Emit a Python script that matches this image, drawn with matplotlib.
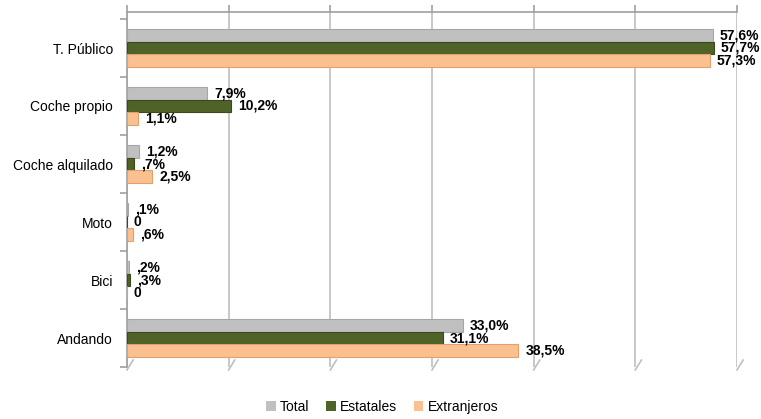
import matplotlib
matplotlib.use("Agg")
import matplotlib.pyplot as plt
import numpy as np
from matplotlib.patches import Patch

categories = ["T. Público", "Coche propio", "Coche alquilado", "Moto", "Bici", "Andando"]
series_names = ["Total", "Estatales", "Extranjeros"]
total = [57.6, 7.9, 1.2, 0.1, 0.2, 33.0]
estatales = [57.7, 10.2, 0.7, 0.0, 0.3, 31.1]
extranjeros = [57.3, 1.1, 2.5, 0.6, 0.0, 38.5]
total_labels = ["57,6%", "7,9%", "1,2%", ",1%", ",2%", "33,0%"]
estatales_labels = ["57,7%", "10,2%", ",7%", "0", ",3%", "31,1%"]
extranjeros_labels = ["57,3%", "1,1%", "2,5%", ",6%", "0", "38,5%"]
colors = ["#c0c0c0", "#4f6228", "#fac090"]
edge_colors = ["#a6a6a6", "#3b4a1e", "#e0a070"]

plt.rcParams['font.family'] = ['Liberation Sans', 'DejaVu Sans']

fig = plt.figure(figsize=(7.61, 4.19), dpi=100)
ax = fig.add_axes([127/761, 1-367/419, 610/761, 355/419])

y = np.arange(len(categories))
h = 0.224
all_vals = [total, estatales, extranjeros]
all_labels = [total_labels, estatales_labels, extranjeros_labels]
offsets = [-h, 0, h]
for vals, labs, off, c, ec, name in zip(all_vals, all_labels, offsets, colors, edge_colors, series_names):
    ax.barh(y + off, vals, height=h, color=c, edgecolor=ec, linewidth=0.8, label=name, zorder=3)
    for yi, v, lab in zip(y + off, vals, labs):
        ax.annotate(lab, (v, yi), xytext=(5, 0), textcoords="offset points",
                    va="center", ha="left", fontsize=10, fontweight="bold",
                    color="black", zorder=5)

n = len(categories)
ax.set_xlim(0, 60)
ax.set_ylim(n - 0.5, -0.5 - 7/58)
ax.set_xticks(np.arange(0, 61, 10))
ax.xaxis.set_ticks_position("top")
ax.tick_params(axis="x", length=5, color="#a0a0a0", width=1.2, labeltop=False, labelbottom=False)
ax.grid(axis="x", color="#bfbfbf", linewidth=1.2, zorder=0)
ax.set_yticks(y)
ax.set_yticklabels(categories, fontsize=10)
ax.tick_params(axis="y", length=0, pad=10)
ax.set_yticks(np.arange(-0.5, n, 1), minor=True)
ax.tick_params(axis="y", which="minor", length=5, color="#a0a0a0", width=1.2, direction="out")
for s in ["right", "bottom"]:
    ax.spines[s].set_visible(False)
for s in ["left", "top"]:
    ax.spines[s].set_color("#a0a0a0")
    ax.spines[s].set_linewidth(1.2)

# floor perspective strokes under gridlines
for xv in np.arange(0, 61, 10):
    ax.plot([xv + 0.6, xv], [n - 0.5 - 0.12, n - 0.5 + 0.05],
            color="#bfbfbf", linewidth=1.2, clip_on=False, zorder=1)

handles = [Patch(facecolor=c, edgecolor="none") for c in colors]
fig.legend(handles, series_names, loc="center", bbox_to_anchor=(382/761, 1-407/419),
           ncol=3, frameon=False, fontsize=10, handlelength=0.7, handleheight=0.7,
           handletextpad=0.3, columnspacing=1.2)

fig.savefig("out.png", dpi=100)
